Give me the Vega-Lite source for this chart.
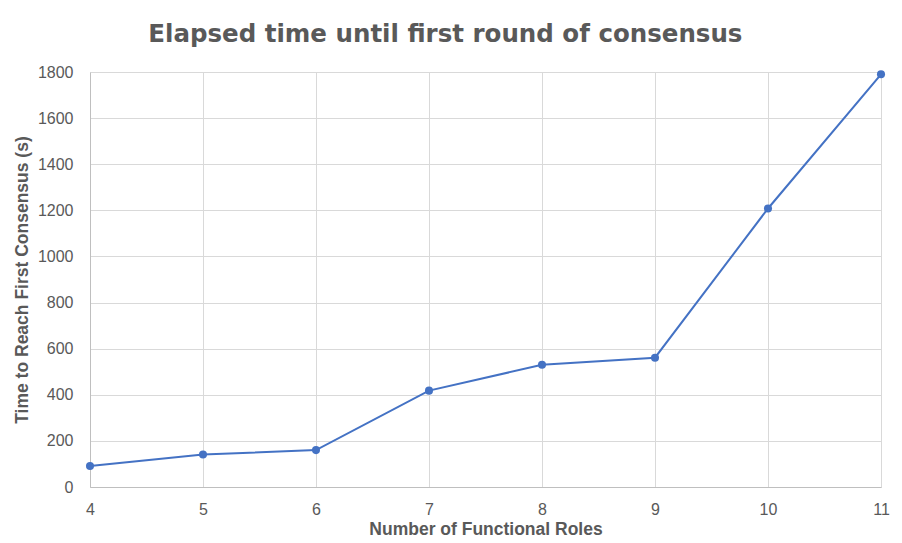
{
  "$schema": "https://vega.github.io/schema/vega-lite/v6.json",
  "width": 791,
  "height": 415,
  "autosize": {"type": "none"},
  "padding": {"left": 90, "top": 72, "right": 21, "bottom": 56},
  "background": "white",
  "title": {
    "text": "Elapsed time until first round of consensus",
    "font": "DejaVu Sans",
    "fontSize": 24.5,
    "fontWeight": "bold",
    "color": "#595959",
    "anchor": "middle",
    "frame": "bounds",
    "offset": 17,
    "dx": -6
  },
  "data": {
    "values": [
      {"roles": 4, "time": 91},
      {"roles": 5, "time": 141},
      {"roles": 6, "time": 160},
      {"roles": 7, "time": 418},
      {"roles": 8, "time": 530},
      {"roles": 9, "time": 561},
      {"roles": 10, "time": 1208},
      {"roles": 11, "time": 1790}
    ]
  },
  "config": {
    "view": {"stroke": null},
    "axis": {
      "labelFont": "Liberation Sans",
      "labelFontSize": 16,
      "labelColor": "#595959",
      "titleFont": "Liberation Sans",
      "titleFontSize": 17.5,
      "titleFontWeight": "bold",
      "titleColor": "#595959",
      "gridColor": "#d9d9d9",
      "gridWidth": 1,
      "domainColor": "#bfbfbf",
      "ticks": false,
      "labelFlush": false,
      "format": "d"
    }
  },
  "layer": [
    {
      "mark": {"type": "line", "color": "#4472C4", "strokeWidth": 2},
      "encoding": {
        "x": {
          "field": "roles",
          "type": "quantitative",
          "scale": {"domain": [4, 11], "nice": false, "zero": false},
          "axis": {
            "title": "Number of Functional Roles",
            "values": [4, 5, 6, 7, 8, 9, 10, 11],
            "labelPadding": 14,
            "titlePadding": 3
          }
        },
        "y": {
          "field": "time",
          "type": "quantitative",
          "scale": {"domain": [0, 1800], "nice": false},
          "axis": {
            "title": "Time to Reach First Consensus (s)",
            "values": [0, 200, 400, 600, 800, 1000, 1200, 1400, 1600, 1800],
            "labelPadding": 17,
            "titlePadding": 6
          }
        }
      }
    },
    {
      "mark": {"type": "point", "filled": true, "color": "#4472C4", "size": 65, "opacity": 1},
      "encoding": {
        "x": {"field": "roles", "type": "quantitative"},
        "y": {"field": "time", "type": "quantitative"}
      }
    }
  ]
}
